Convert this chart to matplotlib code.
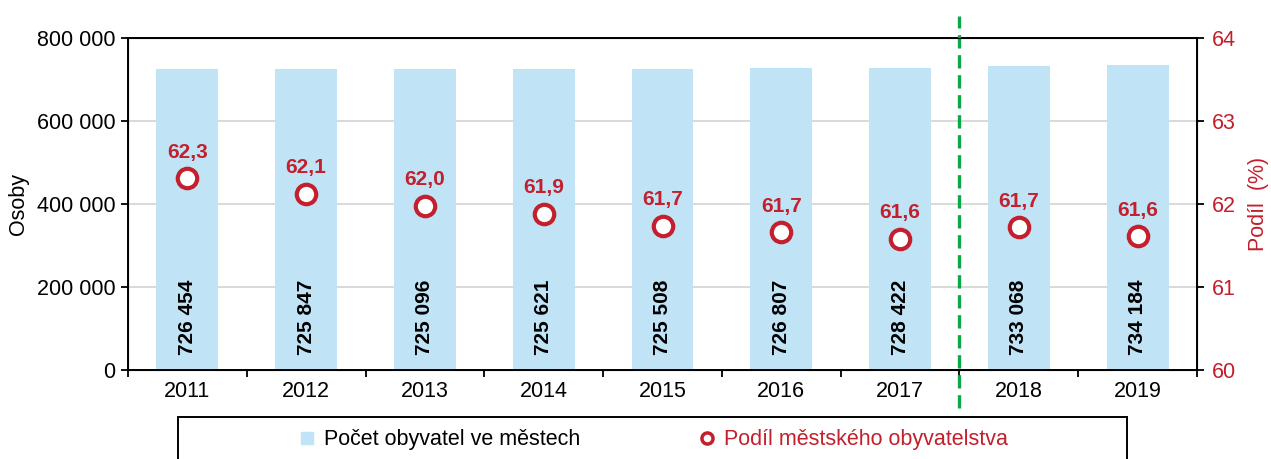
import matplotlib
matplotlib.use("Agg")
import matplotlib.pyplot as plt
import matplotlib.transforms as mtransforms
from matplotlib.patches import Rectangle
from matplotlib.lines import Line2D
from matplotlib.ticker import FuncFormatter

# data
years = ['2011', '2012', '2013', '2014', '2015', '2016', '2017', '2018', '2019']
population = [726454, 725847, 725096, 725621, 725508, 726807, 728422, 733068, 734184]
share = [62.31, 62.12, 61.98, 61.88, 61.74, 61.66, 61.58, 61.72, 61.61]

plt.rcParams['font.family'] = ['Liberation Sans', 'DejaVu Sans']

red = '#C31F2C'
blue = '#C0E3F6'
green = '#0BA84A'
fs = 15.5

fig = plt.figure(figsize=(12.71, 4.59), dpi=100)
ax = fig.add_axes([0.1007, 0.1939, 0.8411, 0.7233])
x = list(range(len(years)))

# bars
ax.bar(x, population, width=0.52, color=blue, zorder=2)
ax.set_ylim(0, 800000)
ax.set_xlim(-0.5, len(years) - 0.5)
ax.set_yticks([0, 200000, 400000, 600000, 800000])
ax.yaxis.set_major_formatter(FuncFormatter(lambda v, p: f"{int(v):,}".replace(',', ' ')))
ax.set_axisbelow(True)
ax.yaxis.grid(True, color='#CFCFCF', linewidth=1.1)
ax.set_ylabel('Osoby', fontsize=fs, labelpad=6)

ax.set_xticks(x)
ax.set_xticklabels(years, fontsize=fs)
ax.set_xticks([i - 0.5 for i in range(len(years) + 1)], minor=True)
ax.tick_params(axis='x', which='major', length=0, pad=8)
ax.tick_params(axis='x', which='minor', length=5, width=1.3, direction='out')
ax.tick_params(axis='y', labelsize=fs, length=5, width=1.3, direction='out', pad=4)
for sp in ax.spines.values():
    sp.set_linewidth(1.4)

# value labels inside bars
for xi, v in zip(x, population):
    ax.annotate(f"{v:,}".replace(',', ' '), (xi, 0), xytext=(0, 11),
                textcoords='offset points', rotation=90, ha='center', va='bottom',
                fontsize=15, fontweight='bold', zorder=5)

# share on right axis
ax2 = ax.twinx()
ax2.set_ylim(60, 64)
ax2.set_yticks([60, 61, 62, 63, 64])
ax2.tick_params(axis='y', labelsize=fs, labelcolor=red, length=5, width=1.3, direction='out', pad=6)
ax2.set_ylabel('Podíl  (%)', fontsize=fs, color=red, labelpad=8)
ax2.plot(x, share, linestyle='none', marker='o', markersize=14,
         markerfacecolor='white', markeredgecolor=red, markeredgewidth=3, zorder=4)
for xi, s in zip(x, share):
    ax2.annotate(f"{s:.1f}".replace('.', ','), (xi, s), xytext=(0, 12),
                 textcoords='offset points', ha='center', va='bottom',
                 fontsize=15, fontweight='bold', color=red)

# dashed separator between 2017 and 2018
trans = mtransforms.blended_transform_factory(ax.transData, ax.transAxes)
ax.plot([6.5, 6.5], [-0.115, 1.065], transform=trans, color=green,
        linewidth=2.4, linestyle=(0, (4, 2)), clip_on=False, zorder=6)

# legend box at bottom (cut off by figure edge)
fig.patches.append(Rectangle((0.140, -0.05), 0.747, 0.1415, transform=fig.transFigure,
                             fill=False, edgecolor='black', linewidth=1.4))
handles = [
    Line2D([], [], linestyle='none', marker='s', markersize=9,
           markerfacecolor=blue, markeredgecolor=blue),
    Line2D([], [], linestyle='none', marker='o', markersize=8,
           markerfacecolor='white', markeredgecolor=red, markeredgewidth=2.5),
]
leg = fig.legend(handles, ['Počet obyvatel ve městech', 'Podíl městského obyvatelstva'],
                 loc='center', bbox_to_anchor=(0.513, 0.042), ncol=2, frameon=False,
                 fontsize=fs, handletextpad=0.3, columnspacing=5.4, handlelength=1.0)
leg.get_texts()[1].set_color(red)

plt.savefig('out.png', dpi=100)
plt.close()
